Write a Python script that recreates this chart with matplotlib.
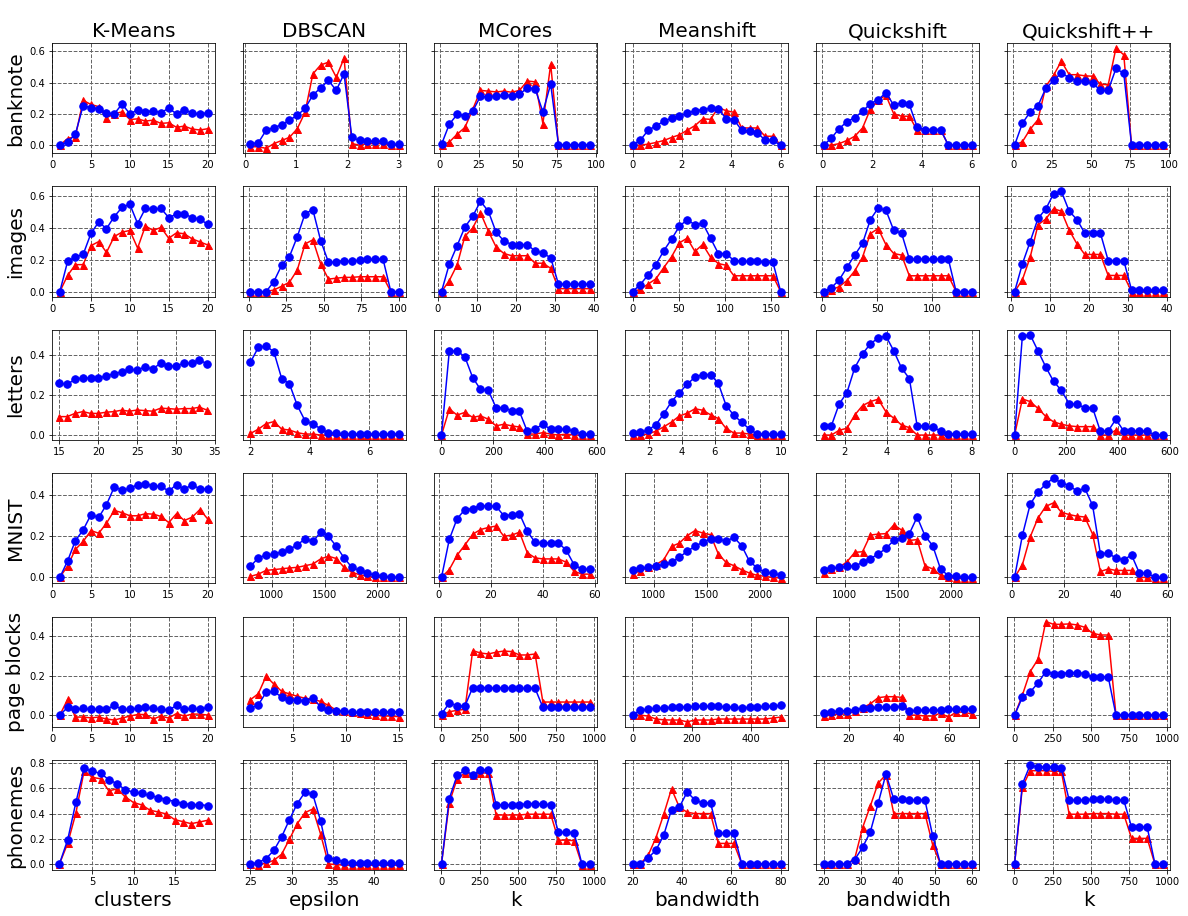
import numpy as np
import matplotlib
matplotlib.use("Agg")
import matplotlib.pyplot as plt

# Rotulos
algoritmos = ['K-Means', 'DBSCAN', 'MCores', 'Meanshift', 'Quickshift', 'Quickshift++']
datasets = ['banknote', 'images', 'letters', 'MNIST', 'page blocks', 'phonemes']
parametros = ['clusters', 'epsilon', 'k', 'bandwidth', 'bandwidth', 'k']

# banknote
bank_km_x = np.arange(1, 21)
bank_km_b = [0, 0.021, 0.07, 0.253, 0.238, 0.232, 0.206, 0.2, 0.263, 0.2, 0.225, 0.215, 0.219, 0.208, 0.236, 0.2, 0.225, 0.206, 0.2, 0.206]
bank_km_r = [0, 0.042, 0.055, 0.286, 0.26, 0.246, 0.175, 0.2, 0.213, 0.164, 0.168, 0.154, 0.16, 0.139, 0.143, 0.114, 0.122, 0.103, 0.097, 0.105]
bank_db_x = np.linspace(0.1, 3, 20)
bank_db_b = [0.01, 0.015, 0.095, 0.112, 0.13, 0.16, 0.19, 0.235, 0.32, 0.366, 0.413, 0.35, 0.455, 0.05, 0.03, 0.025, 0.025, 0.025, 0.005, 0.005]
bank_db_r = [-0.01, -0.01, -0.02, 0.01, 0.03, 0.05, 0.105, 0.21, 0.455, 0.512, 0.53, 0.434, 0.555, 0.01, 0.0, 0.01, 0.01, 0.01, 0.0, 0.0]
bank_mc_x = np.arange(1, 100, 5)
bank_mc_b = [0.005, 0.134, 0.196, 0.185, 0.217, 0.313, 0.306, 0.315, 0.32, 0.315, 0.325, 0.366, 0.36, 0.213, 0.39, 0.003, 0.003, 0.003, 0.003, 0.003]
bank_mc_r = [0, 0.02, 0.07, 0.113, 0.228, 0.35, 0.345, 0.34, 0.345, 0.338, 0.35, 0.41, 0.404, 0.138, 0.517, 0, 0, 0, 0, 0]
bank_ms_x = np.linspace(0, 6, 20)
bank_ms_b = [0, 0.032, 0.095, 0.123, 0.153, 0.172, 0.185, 0.204, 0.22, 0.227, 0.235, 0.231, 0.17, 0.163, 0.095, 0.091, 0.08, 0.032, 0.03, 0]
bank_ms_r = [0, 0, 0.007, 0.017, 0.03, 0.049, 0.066, 0.095, 0.125, 0.168, 0.165, 0.24, 0.22, 0.21, 0.11, 0.11, 0.11, 0.057, 0.057, 0]
bank_qs_x = np.linspace(0.05, 6, 20)
bank_qs_b = [0, 0.045, 0.106, 0.15, 0.176, 0.216, 0.265, 0.29, 0.335, 0.255, 0.27, 0.26, 0.115, 0.1, 0.1, 0.1, 0, 0, 0, 0]
bank_qs_r = [0, 0, 0.01, 0.03, 0.057, 0.11, 0.23, 0.29, 0.318, 0.2, 0.185, 0.185, 0.095, 0.1, 0.1, 0.1, 0, 0, 0, 0]
bank_qp_x = np.arange(1, 100, 5)
bank_qp_b = [0, 0.14, 0.212, 0.252, 0.363, 0.413, 0.462, 0.43, 0.41, 0.41, 0.397, 0.35, 0.35, 0.49, 0.458, 0, 0, 0, 0, 0]
bank_qp_r = [0, 0.022, 0.102, 0.163, 0.375, 0.447, 0.536, 0.45, 0.45, 0.443, 0.44, 0.39, 0.385, 0.62, 0.577, 0, 0, 0, 0, 0]

# images
img_km_x = np.arange(1, 21)
img_km_b = [0, 0.19, 0.217, 0.234, 0.366, 0.438, 0.396, 0.472, 0.53, 0.549, 0.428, 0.523, 0.519, 0.523, 0.466, 0.487, 0.491, 0.464, 0.457, 0.423]
img_km_r = [0, 0.102, 0.17, 0.17, 0.289, 0.315, 0.247, 0.347, 0.374, 0.385, 0.274, 0.413, 0.385, 0.404, 0.336, 0.37, 0.364, 0.332, 0.313, 0.294]
img_db_x = np.linspace(1, 100, 20)
img_db_b = [0, 0, 0, 0.064, 0.166, 0.221, 0.345, 0.491, 0.515, 0.321, 0.185, 0.185, 0.191, 0.191, 0.198, 0.204, 0.204, 0.204, 0, 0]
img_db_r = [0, 0, 0, 0.011, 0.034, 0.06, 0.136, 0.3, 0.326, 0.174, 0.079, 0.085, 0.09, 0.09, 0.094, 0.094, 0.094, 0.094, 0, 0]
img_mc_x = np.arange(1, 40, 2)
img_mc_b = [0, 0.174, 0.289, 0.406, 0.474, 0.568, 0.506, 0.374, 0.319, 0.296, 0.296, 0.296, 0.255, 0.243, 0.213, 0.047, 0.047, 0.047, 0.047, 0.047]
img_mc_r = [0, 0.07, 0.168, 0.349, 0.4, 0.496, 0.381, 0.281, 0.24, 0.226, 0.226, 0.226, 0.179, 0.179, 0.147, 0.019, 0.019, 0.019, 0.019, 0.019]
img_ms_x = np.linspace(0, 160, 20)
img_ms_b = [0, 0.045, 0.106, 0.17, 0.257, 0.33, 0.41, 0.453, 0.42, 0.43, 0.336, 0.24, 0.24, 0.195, 0.19, 0.19, 0.19, 0.185, 0.185, 0]
img_ms_r = [0, 0.015, 0.048, 0.081, 0.151, 0.219, 0.307, 0.336, 0.253, 0.297, 0.217, 0.177, 0.166, 0.1, 0.1, 0.1, 0.1, 0.1, 0.1, 0]
img_qs_x = np.linspace(1, 136, 20)
img_qs_b = [0, 0.025, 0.074, 0.153, 0.23, 0.304, 0.453, 0.525, 0.512, 0.385, 0.368, 0.205, 0.205, 0.205, 0.205, 0.205, 0.205, 0, 0, 0]
img_qs_r = [0, 0.011, 0.032, 0.07, 0.131, 0.217, 0.365, 0.397, 0.295, 0.24, 0.23, 0.1, 0.1, 0.1, 0.1, 0.1, 0.1, 0, 0, 0]
img_qp_x = np.arange(1, 40, 2)
img_qp_b = [0, 0.175, 0.315, 0.46, 0.52, 0.615, 0.63, 0.506, 0.453, 0.368, 0.368, 0.368, 0.196, 0.196, 0.196, 0.01, 0.01, 0.01, 0.01, 0.01]
img_qp_r = [0, 0.075, 0.217, 0.42, 0.457, 0.521, 0.506, 0.387, 0.3, 0.234, 0.234, 0.234, 0.102, 0.102, 0.102, 0, 0, 0, 0, 0]

# letters
let_km_x = np.arange(15, 35)
let_km_b = [0.258, 0.253, 0.278, 0.286, 0.283, 0.286, 0.293, 0.307, 0.314, 0.327, 0.325, 0.339, 0.329, 0.359, 0.344, 0.344, 0.358, 0.358, 0.375, 0.354]
let_km_r = [0.092, 0.092, 0.108, 0.117, 0.108, 0.108, 0.114, 0.117, 0.124, 0.119, 0.125, 0.122, 0.119, 0.134, 0.132, 0.129, 0.132, 0.132, 0.139, 0.124]
let_db_x = np.linspace(2, 7, 20)
let_db_b = [0.363, 0.437, 0.445, 0.415, 0.282, 0.255, 0.148, 0.071, 0.054, 0.032, 0.01, 0.01, 0.005, 0.005, 0.005, 0.005, 0.005, 0.005, 0.005, 0.005]
let_db_r = [0.008, 0.029, 0.057, 0.067, 0.03, 0.025, 0.012, 0.005, 0.005, 0, 0, 0, 0, 0, 0, 0, 0, 0, 0, 0]
let_mc_x = np.arange(1, 600, 30)
let_mc_b = [0, 0.418, 0.42, 0.39, 0.287, 0.228, 0.223, 0.137, 0.137, 0.121, 0.118, 0.019, 0.03, 0.054, 0.029, 0.029, 0.029, 0.02, 0.005, 0.005]
let_mc_r = [0, 0.13, 0.1, 0.113, 0.088, 0.096, 0.079, 0.046, 0.054, 0.046, 0.04, 0.005, 0.005, 0.012, 0.005, 0, 0.005, 0, 0, 0]
let_ms_x = np.linspace(1, 10, 20)
let_ms_b = [0.008, 0.013, 0.025, 0.052, 0.106, 0.167, 0.211, 0.253, 0.289, 0.302, 0.302, 0.258, 0.147, 0.098, 0.064, 0.029, 0.005, 0.005, 0.005, 0.003]
let_ms_r = [0, 0, 0.005, 0.02, 0.041, 0.065, 0.095, 0.109, 0.131, 0.124, 0.101, 0.082, 0.033, 0.01, 0.01, 0.005, 0, 0, 0, 0]
let_qs_x = np.linspace(1, 8, 20)
let_qs_b = [0.046, 0.046, 0.155, 0.212, 0.336, 0.405, 0.455, 0.484, 0.494, 0.42, 0.334, 0.282, 0.046, 0.046, 0.04, 0.02, 0.005, 0.005, 0.005, 0.005]
let_qs_r = [0, 0, 0.024, 0.034, 0.1, 0.147, 0.167, 0.179, 0.116, 0.084, 0.05, 0.037, 0, 0, 0, 0, 0, 0, 0, 0]
let_qp_x = np.arange(1, 600, 30)
let_qp_b = [0, 0.494, 0.5, 0.42, 0.34, 0.268, 0.223, 0.157, 0.153, 0.137, 0.137, 0.02, 0.02, 0.079, 0.02, 0.02, 0.02, 0.02, 0, 0]
let_qp_r = [0, 0.18, 0.167, 0.133, 0.093, 0.066, 0.054, 0.046, 0.042, 0.042, 0.042, 0, 0, 0.025, 0, 0, 0, 0, 0, 0]

# MNIST
mn_km_x = np.arange(1, 21)
mn_km_b = [0, 0.08, 0.179, 0.231, 0.305, 0.292, 0.354, 0.44, 0.425, 0.433, 0.452, 0.457, 0.444, 0.444, 0.42, 0.452, 0.428, 0.452, 0.43, 0.43]
mn_km_r = [0, 0.056, 0.136, 0.175, 0.228, 0.215, 0.264, 0.326, 0.315, 0.3, 0.3, 0.31, 0.308, 0.297, 0.267, 0.31, 0.277, 0.293, 0.33, 0.285]
mn_db_x = np.linspace(800, 2200, 20)
mn_db_b = [0.054, 0.095, 0.108, 0.114, 0.123, 0.137, 0.158, 0.188, 0.175, 0.22, 0.2, 0.152, 0.095, 0.049, 0.034, 0.02, 0.011, 0.008, 0, 0]
mn_db_r = [0.005, 0.016, 0.034, 0.038, 0.042, 0.046, 0.049, 0.057, 0.065, 0.09, 0.103, 0.092, 0.049, 0.025, 0.013, 0.005, 0, 0, 0, 0]
mn_mc_x = np.arange(1, 60, 3)
mn_mc_b = [0, 0.185, 0.286, 0.33, 0.335, 0.35, 0.346, 0.346, 0.3, 0.305, 0.31, 0.225, 0.17, 0.168, 0.168, 0.168, 0.132, 0.062, 0.04, 0.04]
mn_mc_r = [0, 0.038, 0.108, 0.158, 0.21, 0.233, 0.243, 0.25, 0.2, 0.206, 0.22, 0.12, 0.095, 0.09, 0.09, 0.09, 0.074, 0.03, 0.016, 0.016]
mn_ms_x = np.linspace(800, 2200, 20)
mn_ms_b = [0.036, 0.046, 0.049, 0.054, 0.063, 0.075, 0.098, 0.127, 0.151, 0.171, 0.187, 0.185, 0.176, 0.195, 0.154, 0.078, 0.046, 0.024, 0.021, 0.011]
mn_ms_r = [0.016, 0.033, 0.049, 0.062, 0.086, 0.151, 0.167, 0.203, 0.228, 0.216, 0.208, 0.114, 0.073, 0.057, 0.037, 0.021, 0.01, 0.005, 0, -0.003]
mn_qs_x = np.linspace(800, 2200, 20)
mn_qs_b = [0.036, 0.044, 0.049, 0.054, 0.055, 0.073, 0.091, 0.114, 0.141, 0.18, 0.193, 0.213, 0.294, 0.203, 0.154, 0.041, 0.008, 0.005, 0, 0]
mn_qs_r = [0.021, 0.041, 0.049, 0.076, 0.122, 0.125, 0.206, 0.211, 0.213, 0.255, 0.231, 0.18, 0.184, 0.057, 0.041, 0.011, 0, -0.005, -0.005, -0.005]
mn_qp_x = np.arange(1, 60, 3)
mn_qp_b = [0, 0.205, 0.356, 0.415, 0.455, 0.483, 0.46, 0.447, 0.42, 0.434, 0.351, 0.115, 0.119, 0.093, 0.086, 0.109, 0.021, 0.021, 0, 0]
mn_qp_r = [0, 0.062, 0.197, 0.289, 0.346, 0.363, 0.317, 0.306, 0.298, 0.294, 0.211, 0.029, 0.041, 0.034, 0.034, 0.034, 0, 0, -0.003, -0.003]

# page blocks
pb_km_x = np.arange(1, 21)
pb_km_b = [0, 0.039, 0.029, 0.034, 0.029, 0.029, 0.029, 0.049, 0.029, 0.029, 0.034, 0.039, 0.034, 0.029, 0.025, 0.049, 0.029, 0.034, 0.029, 0.039]
pb_km_r = [0, 0.079, -0.01, -0.01, -0.014, -0.01, -0.02, -0.025, -0.015, -0.005, 0.003, 0.003, -0.02, -0.005, -0.015, 0.008, -0.005, 0.005, 0.005, 0]
pb_db_x = np.linspace(1, 15, 20)
pb_db_b = [0.037, 0.051, 0.115, 0.12, 0.09, 0.078, 0.074, 0.069, 0.085, 0.042, 0.027, 0.02, 0.02, 0.014, 0.014, 0.014, 0.014, 0.014, 0.017, 0.017]
pb_db_r = [0.078, 0.108, 0.196, 0.157, 0.12, 0.107, 0.095, 0.085, 0.08, 0.069, 0.049, 0.025, 0.02, 0.015, 0.01, 0.005, 0, -0.005, -0.005, -0.008]
pb_mc_x = np.arange(1, 1000, 51)
pb_mc_b = [0.005, 0.061, 0.047, 0.046, 0.139, 0.139, 0.139, 0.135, 0.139, 0.135, 0.135, 0.135, 0.135, 0.039, 0.039, 0.039, 0.039, 0.039, 0.039, 0.039]
pb_mc_r = [0, 0.017, 0.024, 0.029, 0.326, 0.314, 0.309, 0.318, 0.324, 0.321, 0.304, 0.304, 0.309, 0.066, 0.066, 0.066, 0.066, 0.066, 0.066, 0.066]
pb_ms_x = np.linspace(0, 500, 20)
pb_ms_b = [0, 0.025, 0.03, 0.035, 0.035, 0.04, 0.04, 0.04, 0.045, 0.045, 0.045, 0.045, 0.04, 0.04, 0.035, 0.04, 0.04, 0.045, 0.045, 0.05]
pb_ms_r = [0, 0, -0.005, -0.02, -0.024, -0.025, -0.025, -0.034, -0.025, -0.025, -0.025, -0.02, -0.02, -0.02, -0.02, -0.02, -0.02, -0.02, -0.015, -0.01]
pb_qs_x = np.linspace(10, 69, 20)
pb_qs_b = [0.012, 0.015, 0.022, 0.022, 0.027, 0.034, 0.037, 0.04, 0.04, 0.04, 0.044, 0.02, 0.025, 0.025, 0.025, 0.025, 0.03, 0.03, 0.03, 0.03]
pb_qs_r = [-0.005, 0, 0.005, 0.005, 0.02, 0.037, 0.057, 0.088, 0.093, 0.093, 0.09, 0, 0, -0.005, -0.005, 0.01, -0.01, 0.015, 0.015, 0.005]
pb_qp_x = np.arange(1, 1000, 51)
pb_qp_b = [0, 0.09, 0.117, 0.162, 0.22, 0.21, 0.21, 0.215, 0.215, 0.21, 0.194, 0.194, 0.194, 0, 0, 0, 0, 0, 0, 0]
pb_qp_r = [0, 0.101, 0.22, 0.282, 0.473, 0.459, 0.459, 0.461, 0.456, 0.444, 0.414, 0.405, 0.405, 0, 0, 0, 0, 0, 0, 0]

# phonemes
ph_km_x = np.arange(1, 20)
ph_km_b = [0, 0.192, 0.49, 0.76, 0.736, 0.72, 0.67, 0.637, 0.589, 0.571, 0.56, 0.544, 0.528, 0.512, 0.496, 0.48, 0.472, 0.472, 0.464]
ph_km_r = [0, 0.163, 0.405, 0.741, 0.688, 0.677, 0.581, 0.597, 0.533, 0.488, 0.469, 0.427, 0.413, 0.397, 0.352, 0.336, 0.32, 0.333, 0.347]
ph_db_x = np.linspace(25, 43, 20)
ph_db_b = [0, 0.011, 0.043, 0.107, 0.216, 0.352, 0.48, 0.571, 0.552, 0.341, 0.051, 0.035, 0.016, 0.008, 0.008, 0.005, 0.005, 0.005, 0.005, 0.005]
ph_db_r = [0, -0.005, 0.005, 0.029, 0.077, 0.197, 0.32, 0.408, 0.437, 0.235, 0, -0.005, -0.01, -0.01, -0.01, -0.01, -0.01, -0.01, -0.01, -0.01]
ph_mc_x = np.arange(1, 1000, 51)
ph_mc_b = [0, 0.52, 0.704, 0.744, 0.709, 0.747, 0.747, 0.469, 0.469, 0.469, 0.469, 0.48, 0.48, 0.475, 0.47, 0.251, 0.251, 0.248, 0, 0]
ph_mc_r = [0, 0.488, 0.675, 0.723, 0.709, 0.723, 0.723, 0.389, 0.389, 0.389, 0.389, 0.395, 0.395, 0.395, 0.395, 0.189, 0.189, 0.185, -0.005, -0.005]
ph_ms_x = np.linspace(20, 80, 20)
ph_ms_b = [0, 0, 0.048, 0.109, 0.229, 0.432, 0.451, 0.571, 0.509, 0.483, 0.485, 0.243, 0.243, 0.243, 0, 0, 0, 0, 0, 0]
ph_ms_r = [0, 0, 0.069, 0.208, 0.395, 0.597, 0.451, 0.411, 0.4, 0.4, 0.4, 0.163, 0.163, 0.163, 0, 0, 0, 0, 0, 0]
ph_qs_x = np.linspace(20, 60, 20)
ph_qs_b = [0, 0, 0, 0, 0.035, 0.131, 0.256, 0.483, 0.715, 0.515, 0.515, 0.507, 0.507, 0.507, 0.221, 0, 0, 0, 0, 0]
ph_qs_r = [0, 0, 0, 0, 0.043, 0.288, 0.461, 0.643, 0.709, 0.4, 0.4, 0.4, 0.4, 0.4, 0.149, 0, 0, 0, 0, 0]
ph_qp_x = np.arange(1, 1000, 51)
ph_qp_b = [0, 0.635, 0.787, 0.768, 0.773, 0.768, 0.763, 0.507, 0.507, 0.507, 0.515, 0.515, 0.515, 0.507, 0.507, 0.293, 0.293, 0.293, 0, 0]
ph_qp_r = [0, 0.613, 0.741, 0.741, 0.741, 0.736, 0.736, 0.395, 0.395, 0.395, 0.4, 0.4, 0.4, 0.395, 0.395, 0.203, 0.203, 0.203, -0.003, -0.003]

# Montando a grade (linha = dataset, coluna = algoritmo)
grade = [
    [(bank_km_x, bank_km_b, bank_km_r), (bank_db_x, bank_db_b, bank_db_r), (bank_mc_x, bank_mc_b, bank_mc_r),
     (bank_ms_x, bank_ms_b, bank_ms_r), (bank_qs_x, bank_qs_b, bank_qs_r), (bank_qp_x, bank_qp_b, bank_qp_r)],
    [(img_km_x, img_km_b, img_km_r), (img_db_x, img_db_b, img_db_r), (img_mc_x, img_mc_b, img_mc_r),
     (img_ms_x, img_ms_b, img_ms_r), (img_qs_x, img_qs_b, img_qs_r), (img_qp_x, img_qp_b, img_qp_r)],
    [(let_km_x, let_km_b, let_km_r), (let_db_x, let_db_b, let_db_r), (let_mc_x, let_mc_b, let_mc_r),
     (let_ms_x, let_ms_b, let_ms_r), (let_qs_x, let_qs_b, let_qs_r), (let_qp_x, let_qp_b, let_qp_r)],
    [(mn_km_x, mn_km_b, mn_km_r), (mn_db_x, mn_db_b, mn_db_r), (mn_mc_x, mn_mc_b, mn_mc_r),
     (mn_ms_x, mn_ms_b, mn_ms_r), (mn_qs_x, mn_qs_b, mn_qs_r), (mn_qp_x, mn_qp_b, mn_qp_r)],
    [(pb_km_x, pb_km_b, pb_km_r), (pb_db_x, pb_db_b, pb_db_r), (pb_mc_x, pb_mc_b, pb_mc_r),
     (pb_ms_x, pb_ms_b, pb_ms_r), (pb_qs_x, pb_qs_b, pb_qs_r), (pb_qp_x, pb_qp_b, pb_qp_r)],
    [(ph_km_x, ph_km_b, ph_km_r), (ph_db_x, ph_db_b, ph_db_r), (ph_mc_x, ph_mc_b, ph_mc_r),
     (ph_ms_x, ph_ms_b, ph_ms_r), (ph_qs_x, ph_qs_b, ph_qs_r), (ph_qp_x, ph_qp_b, ph_qp_r)],
]


def incluir_bordas(ax, tol_px=0.6, largura_px=163):
    # estende um pouco o eixo x quando um tick cai quase na borda
    lo, hi = ax.get_xlim()
    tol = tol_px * (hi - lo) / largura_px
    for t in ax.xaxis.get_major_locator().tick_values(lo, hi):
        if lo - tol <= t < lo:
            lo = t
        if hi < t <= hi + tol:
            hi = t
    ax.set_xlim(lo, hi)


# Criando plot
fig, axes = plt.subplots(6, 6, sharey='row', figsize=(16.5, 916 / 72), dpi=72)
fig.subplots_adjust(left=0.0438, right=0.985, bottom=0.05, top=0.953, wspace=0.172, hspace=0.3)

for i in range(6):
    for j in range(6):
        ax = axes[i, j]
        x, azul, verm = grade[i][j]
        ax.plot(x, verm, color='red', marker='^', markersize=7, linewidth=1.5)
        ax.plot(x, azul, color='blue', marker='o', markersize=7.5, linewidth=1.5)
        ax.grid(True, linestyle='--', color='0.4', linewidth=1)
        ax.set_axisbelow(True)
        incluir_bordas(ax)
        if i == 0:
            ax.set_title(algoritmos[j], fontsize=20)
        if j == 0:
            ax.set_ylabel(datasets[i], fontsize=20)
        if i == 5:
            ax.set_xlabel(parametros[j], fontsize=20)

plt.savefig('out.png', dpi=72)
